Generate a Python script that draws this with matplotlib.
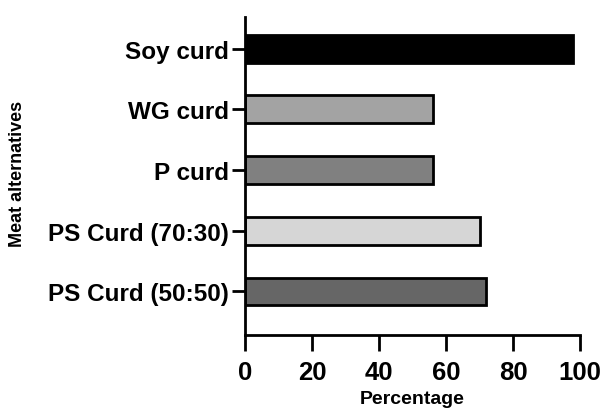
import matplotlib

matplotlib.use("Agg")
import matplotlib.pyplot as plt

plt.rcParams["font.family"] = ["Liberation Sans", "DejaVu Sans"]

categories = ["Soy curd", "WG curd", "P curd", "PS Curd (70:30)", "PS Curd (50:50)"]
values = [98, 56, 56, 70, 72]
colors = ["#000000", "#a3a3a3", "#808080", "#d6d6d6", "#666666"]

fig = plt.figure(figsize=(6.01, 4.10), dpi=100)
ax = fig.add_axes([0.408, 0.18, 0.557, 0.776])

pos = list(range(len(categories)))
ax.barh(pos, values, height=0.46, color=colors, edgecolor="black", linewidth=2)

ax.set_yticks(pos)
ax.set_yticklabels(categories, fontsize=17.5, fontweight="bold")
ax.set_ylim(4.72, -0.52)
ax.set_xlim(0, 100)
ax.set_xticks([0, 20, 40, 60, 80, 100])
ax.tick_params(axis="x", labelsize=18.5, width=2, length=11.5, pad=6)
ax.tick_params(axis="y", width=2, length=9.5, pad=2)
for lbl in ax.get_xticklabels():
    lbl.set_fontweight("bold")

ax.set_xlabel("Percentage", fontsize=14, fontweight="bold")
ax.set_ylabel("Meat alternatives", fontsize=13, fontweight="bold")
ax.xaxis.set_label_coords(0.5, -0.172)
ax.yaxis.set_label_coords(-0.655, 0.51)

for s in ("top", "right"):
    ax.spines[s].set_visible(False)
for s in ("left", "bottom"):
    ax.spines[s].set_linewidth(2)

fig.savefig("out.png", dpi=100)
